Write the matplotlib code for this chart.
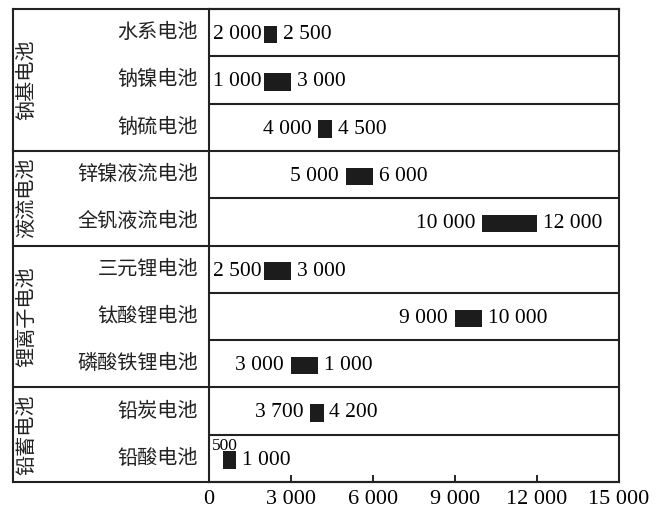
import matplotlib
matplotlib.use("Agg")
import matplotlib.pyplot as plt
from matplotlib.ticker import FuncFormatter

# battery types, top to bottom
categories = ["水系电池", "钠镍电池", "钠硫电池", "锌镍液流电池", "全钒液流电池",
              "三元锂电池", "钛酸锂电池", "磷酸铁锂电池", "铅炭电池", "铅酸电池"]
groups = ["钠基电池", "液流电池", "锂离子电池", "铅蓄电池"]
group_sizes = [3, 2, 3, 2]

# bar ends as drawn
low = [2000, 2000, 4000, 5000, 10000, 2000, 9000, 3000, 3700, 500]
high = [2500, 3000, 4500, 6000, 12000, 3000, 10000, 4000, 4200, 1000]
# value labels as printed
low_labels = ["2 000", "1 000", "4 000", "5 000", "10 000", "2 500", "9 000", "3 000", "3 700", "500"]
high_labels = ["2 500", "3 000", "4 500", "6 000", "12 000", "3 000", "10 000", "1 000", "4 200", "1 000"]

xticks = [0, 3000, 6000, 9000, 12000, 15000]

serif = "Liberation Serif"
cjk = "Noto Sans CJK SC"

fig = plt.figure(figsize=(6.62, 5.22), dpi=100)
ax = fig.add_axes([209 / 662, 40 / 522, 410 / 662, 473 / 522])

n = len(categories)
ys = [i + 0.5 for i in range(n)]
ax.barh([y + 0.04 for y in ys], [h - l for l, h in zip(low, high)], left=low, height=0.37,
        color="#1c1c1c")

ax.set_xlim(0, 15000)
ax.set_ylim(n, 0)

for i, y in enumerate(ys):
    if low_labels[i] == "500":
        ax.annotate(low_labels[i], xy=(0, y), xytext=(2, 9), textcoords="offset points",
                    ha="left", va="center", fontsize=12.5, family=serif)
    else:
        # labels near the left edge are squeezed against the bar
        gap = -1.5 if low[i] <= 2000 else -5
        ax.annotate(low_labels[i], xy=(low[i], y + 0.04), xytext=(gap, 0), textcoords="offset points",
                    ha="right", va="center", fontsize=15.5, family=serif)
    ax.annotate(high_labels[i], xy=(high[i], y + 0.04), xytext=(4, 0), textcoords="offset points",
                ha="left", va="center", fontsize=15.5, family=serif)
    ax.text(-0.027, y, categories[i], transform=ax.get_yaxis_transform(),
            ha="right", va="center", fontsize=14.5, family=cjk, color="#222222")

# row lines inside the plot, group lines across the full width
trans = ax.get_yaxis_transform()
left_edge = (13 - 209) / 410
start = 0
for g, size in zip(groups, group_sizes):
    ax.text(-0.444, start + size / 2, g, transform=trans, rotation=90,
            ha="center", va="center", fontsize=14.5, family=cjk, color="#222222")
    for k in range(start + 1, start + size):
        ax.plot([0, 1], [k, k], transform=trans, color="#222222", lw=1.5)
    start += size
    ax.plot([left_edge, 1], [start, start], transform=trans, color="#222222",
            lw=1.5, clip_on=False)
ax.plot([left_edge, 1], [0, 0], transform=trans, color="#222222", lw=1.5, clip_on=False)
ax.plot([left_edge, left_edge], [0, n], transform=trans, color="#222222", lw=1.5, clip_on=False)

for s in ax.spines.values():
    s.set_linewidth(1.5)
    s.set_color("#222222")

ax.set_xticks(xticks)
ax.xaxis.set_major_formatter(FuncFormatter(lambda v, p: f"{v:,.0f}".replace(",", " ")))
ax.tick_params(axis="x", direction="in", length=5, width=1.2, pad=6, labelsize=16)
for lab in ax.get_xticklabels():
    lab.set_family(serif)
ax.set_yticks([])

fig.savefig("out.png", dpi=100)
